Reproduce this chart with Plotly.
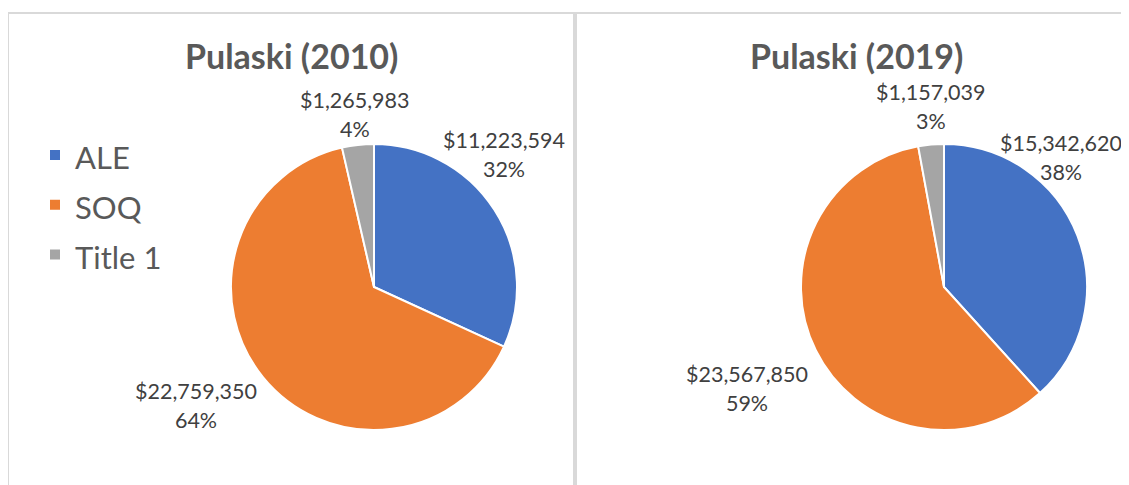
import math
import plotly.graph_objects as go

# ---- data ----
categories = ["ALE", "SOQ", "Title 1"]
values_2010 = [11223594, 22759350, 1265983]
values_2019 = [15342620, 23567850, 1157039]
titles = ["Pulaski (2010)", "Pulaski (2019)"]
colors = ["#4472C4", "#ED7D31", "#A5A5A5"]

OFF = 8  # page body margin: figure origin sits at (8, 8) in the page
W, H = 1129 - OFF, 485 - OFF
FONT = "Lato"


def px(x):
    """page pixel x -> paper"""
    return (x - OFF) / W


def py(y):
    """page pixel y -> paper"""
    return 1 - (y - OFF) / H


def whole_percents(vals):
    """integer percentages that sum to 100 (largest remainder)"""
    total = sum(vals)
    raw = [100 * v / total for v in vals]
    fl = [math.floor(r) for r in raw]
    rest = 100 - sum(fl)
    order = sorted(range(len(vals)), key=lambda i: raw[i] - fl[i], reverse=True)
    for i in order[:rest]:
        fl[i] += 1
    return fl


legend_labels = [f"<span style='font-size:31px'>{c}</span>" for c in categories]

fig = go.Figure()

# pie geometry (page pixels): centre x, centre y, radius
pies = [
    dict(vals=values_2010, cx=374, cy=287, r=143, legend="legend"),
    dict(vals=values_2019, cx=944, cy=287, r=143, legend="legend2"),
]

for p in pies:
    fig.add_trace(go.Pie(
        labels=legend_labels,
        values=p["vals"],
        sort=False,
        direction="clockwise",
        rotation=0,
        textinfo="none",
        marker=dict(colors=colors, line=dict(color="white", width=2)),
        domain=dict(x=[px(p["cx"] - p["r"]), px(p["cx"] + p["r"])],
                    y=[py(p["cy"] + p["r"]), py(p["cy"] - p["r"])]),
        legend=p["legend"],
        hoverinfo="label+value+percent",
    ))

# data label positions (page pixels, centre of two-line label) per slice
label_pos = [
    [(504, 154), (196, 405), (355, 114)],
    [(1061, 158), (747, 388), (931, 107)],
]

annotations = []
for vals, positions in zip([values_2010, values_2019], label_pos):
    pcts = whole_percents(vals)
    for v, pct, (x, y) in zip(vals, pcts, positions):
        txt = (f"<span style='font-size:21.5px'>${v:,}</span><br>"
               f"<span style='font-size:21.5px'>{pct}%</span>")
        annotations.append(dict(
            x=px(x), y=py(y), xref="paper", yref="paper",
            xanchor="center", yanchor="middle", showarrow=False,
            text=txt, align="center",
            font=dict(family=FONT, size=22.5, color="#404040"),
        ))

# chart titles
for t, cx in zip(titles, [291, 856]):
    annotations.append(dict(
        x=px(cx), y=py(55), xref="paper", yref="paper",
        xanchor="center", yanchor="middle", showarrow=False,
        text=f"<b>{t}</b>",
        font=dict(family=FONT, size=34, color="#595959"),
    ))

# panel borders
shapes = [
    dict(type="rect", xref="paper", yref="paper",
         x0=px(8), x1=px(574), y0=py(13), y1=py(520),
         line=dict(color="#D9D9D9", width=2)),
    dict(type="rect", xref="paper", yref="paper",
         x0=px(576), x1=px(1160), y0=py(13), y1=py(520),
         line=dict(color="#D9D9D9", width=2)),
]

legend_common = dict(
    xanchor="left", yanchor="top",
    font=dict(family=FONT, size=36, color="#595959"),
    bgcolor="rgba(0,0,0,0)",
    traceorder="normal",
)

fig.update_layout(
    width=W, height=H,
    margin=dict(l=0, r=0, t=0, b=0),
    paper_bgcolor="white",
    plot_bgcolor="white",
    showlegend=True,
    legend=dict(x=px(35), y=py(125), **legend_common),
    legend2=dict(x=px(601), y=py(125), **legend_common),
    annotations=annotations,
    shapes=shapes,
    font=dict(family=FONT),
)

fig.write_html("out.html")
